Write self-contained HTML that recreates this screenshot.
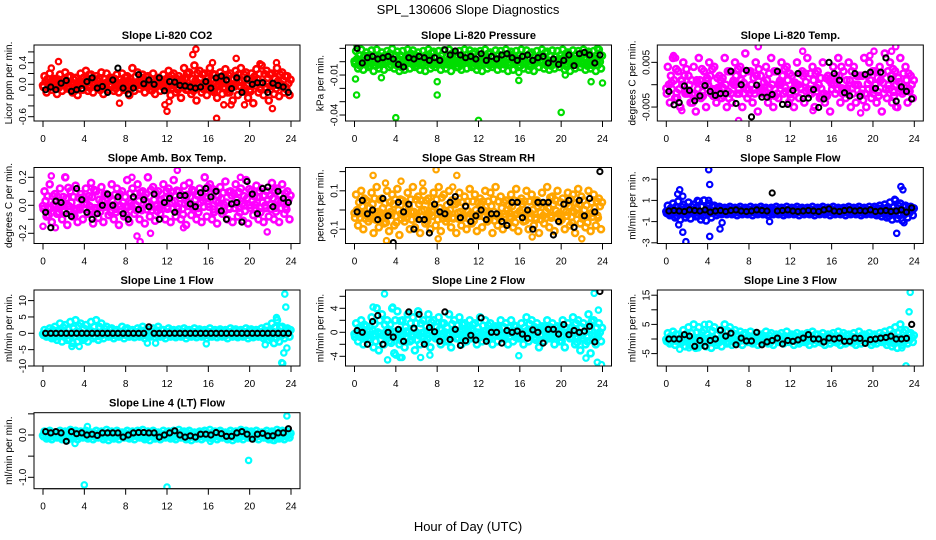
<!DOCTYPE html>
<html><head><meta charset="utf-8"><style>
html,body{margin:0;padding:0;background:#fff}
svg{display:block;font-family:"Liberation Sans",Arial,sans-serif}
</style></head><body>
<svg id="chart" width="936" height="540" viewBox="0 0 936 540">
<text x="468" y="14" text-anchor="middle" font-size="13">SPL_130606  Slope Diagnostics</text>
<text x="468" y="531" text-anchor="middle" font-size="13">Hour of Day (UTC)</text>
<g id="panels"></g>
</svg>
<script>
// ---- data ----
const xTicks=[0,4,8,12,16,20,24];

const co2Hi=[.15,.2,.1,.18,.22,.15,.12,.2,.25,.18,.15,.22,.2,.12,.18,.2,.15,.3,.22,.18,.15,.2,.12,.18,.25,.2,.15,.3,.22,.35,.25,.2,.3,.18,.22,.28,.2,.25,.3,.22,.2,.28,.35,.25,.2,.3,.22,.15];
const co2Mid=[.05,-.02,.08,0,.06,.03,-.04,.05,.1,.02,.07,-.03,.04,.08,0,.05,.06,-.02,.03,.1,.04,-.05,.06,.02,.08,0,.05,.1,-.03,.06,.12,.02,.08,-.04,.1,.05,0,.12,.06,-.02,.08,.1,.03,.12,0,.06,.08,.02];
const co2Lo=[-.15,-.1,-.18,-.12,-.08,-.15,-.2,-.1,-.12,-.15,-.08,-.18,-.1,-.12,-.15,-.1,-.2,-.12,-.08,-.15,-.1,-.18,-.12,-.1,-.2,-.15,-.25,-.1,-.18,-.3,-.15,-.2,-.12,-.25,-.18,-.15,-.3,-.2,-.12,-.25,-.35,-.15,-.2,-.3,-.18,-.22,-.15,-.2];
const co2OutHr=[0.8,1.5,7.4,12,12.2,14.5,14.8,16.4,16.8,18.7,18.2,19.5,21,22.2,22.6,11.8,17.5];
const co2OutVal=[.3,.42,-.35,-.5,-.32,.55,.65,.4,-.63,.48,-.38,-.38,.38,-.45,.4,-.38,-.38];
const co2Blk=[-.1,-.05,-.1,.02,.07,-.13,-.1,-.08,.05,.12,-.07,-.04,-.15,.08,.3,-.07,-.18,-.07,.18,.01,.08,0,.12,-.12,.05,.04,-.02,-.03,-.05,-.07,-.05,.05,-.07,.12,.15,.08,-.08,.12,-.15,.1,0,.03,.03,-.15,.02,-.02,-.05,-.15];

const presHi=[.008,.009,.007,.0085,.009,.007,.008,.0095,.0075,.008,.009,.0085,.007,.008,.009,.0075,.008,.0085,.009,.007,.008,.009,.0085,.0075,.008,.009,.007,.0085,.008,.009,.0075,.008,.009,.0085,.007,.008,.009,.0075,.0085,.008,.009,.007,.0085,.008,.009,.0075,.008,.009];
const presMid=[.002,0,.003,.001,-.001,.002,.004,0,.002,-.002,.003,.001,0,.002,.004,-.001,.002,0,.003,.001,-.002,.002,.004,0,.001,.003,-.001,.002,0,.003,.001,.002,-.001,.003,0,.002,.004,.001,-.001,.002,.003,0,.002,.001,.003,-.001,.002,0];
const presLo=[-.005,-.006,-.004,-.007,-.005,-.006,-.004,-.005,-.007,-.006,-.005,-.004,-.006,-.007,-.005,-.004,-.006,-.005,-.007,-.004,-.006,-.005,-.004,-.006,-.007,-.005,-.004,-.006,-.005,-.007,-.006,-.004,-.005,-.006,-.007,-.004,-.005,-.006,-.005,-.004,-.006,-.007,-.005,-.004,-.006,-.005,-.007,-.005];
const presOutHr=[0.1,0.25,0.2,2.6,4,8,8,12,15.9,15.9,20,20.4,22.9,24,23.5];
const presOutVal=[-.013,.012,-.025,-.012,-.042,-.015,-.025,-.044,-.008,-.014,-.038,-.01,-.015,-.016,.01];
const presBlk=[.01,-.001,.003,.004,.002,.003,.004,.002,-.002,-.004,.003,.002,.004,.003,.001,.003,.001,.009,.005,.008,.005,.003,.004,.002,.006,.001,.004,.002,.005,.006,.003,.001,.004,.005,.001,.003,.004,-.001,.002,-.002,.001,.005,-.003,.006,.007,.005,-.001,.005];

const tempHi=[.004,.006,.003,.005,.002,.004,.006,.003,.005,.004,.002,.006,.003,.005,.004,.007,.003,.005,.002,.004,.006,.003,.005,.004,.002,.005,.003,.006,.004,.003,.005,.002,.004,.006,.003,.005,.004,.002,.006,.005,.003,.004,.007,.005,.003,.006,.004,.002];
const tempMid=[0,.001,-.001,.002,0,-.002,.001,0,.002,-.001,.001,0,-.002,.002,.001,-.001,0,.002,-.001,.001,0,-.002,.002,.001,-.001,0,.002,-.001,.001,0,-.002,.001,0,.002,-.001,.001,0,.002,-.002,.001,0,.001,-.001,.002,0,-.001,.001,0];
const tempLo=[-.004,-.003,-.005,-.002,-.004,-.006,-.003,-.005,-.002,-.004,-.003,-.005,-.004,-.002,-.005,-.003,-.004,-.006,-.002,-.004,-.005,-.003,-.002,-.004,-.005,-.003,-.004,-.002,-.005,-.003,-.004,-.006,-.002,-.004,-.003,-.005,-.004,-.002,-.005,-.003,-.004,-.006,-.003,-.004,-.005,-.002,-.004,-.003];
const tempOutHr=[0.7,0.9,7,8.9,13.2,19.7,20.1,21.8,22.2,22.2,18.8,14.2,1.5];
const tempOutVal=[.0065,.006,-.008,.0085,.0075,.0065,.0075,.0075,.0085,-.005,-.0063,-.0058,-.0058];
const tempBlk=[-.0015,-.0045,-.004,-.0003,-.0013,-.0036,-.0025,-.0002,-.0015,-.0024,-.002,-.002,.003,-.0042,0,.0032,-.0072,-.0001,-.0028,-.0028,-.0022,.003,-.0044,-.0044,-.0013,.0025,-.0031,-.003,-.0011,-.0051,-.0032,.005,.0025,.001,-.0018,-.0025,.0025,-.0026,.0023,.0028,-.0008,.0028,.006,.0013,-.0037,-.0005,-.0015,-.0032];

const ambHi=[.1,.15,.08,.12,.2,.1,.14,.08,.12,.16,.1,.13,.08,.15,.12,.1,.18,.12,.15,.1,.2,.13,.1,.15,.12,.18,.1,.14,.16,.1,.12,.2,.15,.1,.13,.17,.1,.15,.12,.18,.1,.14,.12,.1,.16,.12,.15,.1];
const ambMid=[.03,-.02,.04,0,.05,.02,-.03,.04,.01,.06,-.02,.03,.05,0,.04,.02,-.01,.05,.03,.06,.02,.04,-.02,.05,.07,.03,.05,.01,.06,.04,.02,.06,.08,.03,.05,.02,.07,.04,.01,.05,.03,.06,.02,.04,.05,.03,.02,.04];
const ambLo=[-.08,-.12,-.06,-.1,-.14,-.08,-.12,-.1,-.06,-.13,-.09,-.12,-.07,-.1,-.14,-.08,-.12,-.06,-.1,-.13,-.08,-.11,-.06,-.1,-.12,-.08,-.1,-.14,-.07,-.1,-.12,-.08,-.1,-.13,-.06,-.1,-.12,-.08,-.11,-.13,-.07,-.1,-.12,-.08,-.1,-.12,-.06,-.1];
const ambOutHr=[0.8,0,2.2,8.6,9.1,9.4,10.4,13,19.1,21.7,13.6,1.2];
const ambOutVal=[.21,-.15,.2,.2,-.22,-.26,-.2,.25,.2,-.19,-.16,-.16];
const ambBlk=[-.05,-.16,.03,.02,-.06,-.08,.12,.04,-.05,-.1,-.06,0,.08,0,.06,-.06,-.1,.06,-.03,.04,-.01,.08,-.1,.02,.05,-.05,.07,.07,.01,-.01,.09,.12,.06,.1,-.04,-.1,.01,.02,-.12,.17,.08,-.06,.12,.13,-.01,.1,.05,.02];

const rhHi=[.08,.1,.05,.09,.12,.06,.1,.08,.11,.05,.09,.12,.07,.1,.06,.09,.12,.08,.1,.05,.09,.07,.11,.08,.06,.1,.09,.12,.07,.05,.08,.11,.06,.1,.08,.05,.09,.12,.07,.1,.06,.09,.08,.11,.05,.1,.08,.06];
const rhMid=[0,.02,-.03,.03,-.01,.01,-.02,.03,0,-.03,.02,-.01,.03,0,-.02,.02,.01,-.03,0,.03,-.01,.02,-.02,0,.03,-.01,.02,-.03,.01,0,.02,-.02,.03,-.01,0,.02,-.03,.01,.03,-.02,0,.02,-.01,.03,0,-.02,.01,.02];
const rhLo=[-.08,-.1,-.06,-.12,-.09,-.07,-.11,-.08,-.13,-.06,-.1,-.09,-.12,-.07,-.1,-.08,-.11,-.06,-.09,-.12,-.08,-.1,-.07,-.11,-.09,-.06,-.12,-.08,-.1,-.07,-.09,-.11,-.06,-.1,-.08,-.12,-.07,-.09,-.11,-.06,-.1,-.08,-.12,-.07,-.09,-.11,-.08,-.1];
const rhOutHr=[1.8,3,4.5,7.9,9.9,9.5,3.1,8.1,17.2,22,6.6];
const rhOutVal=[.18,.14,.15,.21,.18,.12,-.16,-.15,-.14,-.15,.14];
const rhBlk=[-.01,.05,-.02,0,-.05,.06,-.03,-.17,.04,-.01,.03,-.1,-.05,-.05,-.12,.03,-.01,-.02,.04,.07,-.04,.02,-.06,-.03,0,-.05,-.02,-.02,-.06,-.08,.04,.04,-.04,0,-.1,.04,.04,.04,-.13,-.06,.03,.05,-.09,.05,-.03,.06,-.01,.2];

const sfHi=[.5,.7,.9,.6,.8,.6,.9,1,.7,.5,.4,.3,.4,.3,.4,.3,.4,.3,.4,.3,.3,.4,.3,.4,.3,.4,.3,.3,.4,.3,.4,.3,.4,.3,.3,.4,.3,.4,.3,.4,.4,.5,.6,.8,1,.7,.5,.4];
const sfMid=[0,.1,-.1,.1,0,.1,-.1,0,.1,0,-.1,.1,0,.05,0,-.05,.05,0,.05,-.05,0,.05,0,-.05,.05,0,.05,0,-.05,.05,0,.05,0,-.05,.05,0,.05,0,-.05,0,.1,0,.1,-.1,0,.1,0,.1];
const sfLo=[-.4,-.6,-.8,-.6,-.7,-.5,-.8,-.9,-.6,-.4,-.3,-.3,-.3,-.4,-.3,-.3,-.4,-.3,-.3,-.4,-.3,-.3,-.4,-.3,-.3,-.4,-.3,-.3,-.4,-.3,-.3,-.4,-.3,-.3,-.4,-.3,-.3,-.4,-.3,-.3,-.4,-.5,-.6,-.8,-.7,-.9,-.6,-.4];
const sfOutHr=[1.1,1.3,1.6,1.2,1.6,1.9,4.1,4.2,4.2,4.1,5.2,5.4,10,22.3,22.7,22.9,22.1,23,3];
const sfOutVal=[1.6,2,1.4,-1.3,-2,-2.9,3.9,2.5,-2.4,1,-1.7,-1.1,-1,-2.1,2.3,2,1.1,-1.1,1];
const sfBlk=[0,.05,0,-.05,.1,.05,0,.1,-.1,0,.05,-.05,.05,.1,0,-.05,0,.1,.05,0,1.7,0,.05,.1,0,-.05,0,.05,0,-.05,.1,.2,0,-.05,.05,.1,0,.05,0,.1,-.05,0,.05,-.05,0,.1,-.1,.3];

const l1Hi=[1,1.5,2,3,2.5,3.5,4,3,2.5,3.5,4,3,2,1.5,1,2,1.5,1,1.5,2,1,1.5,2,1,1.5,1,1.2,1.5,1,1.5,1.2,1,1.5,1,1.2,1,1.5,1.2,1,1.5,1.2,1,1.5,2,3,4,2,1.5];
const l1Mid=[0,.5,-.5,.5,0,-.5,.5,0,-.5,.5,0,-.3,.3,0,-.3,.3,0,-.3,.3,0,-.3,.3,0,-.3,.3,0,-.3,.3,0,-.3,.3,0,-.3,.3,0,-.3,.3,0,-.3,.3,0,-.3,.3,0,.5,-.5,0,.5];
const l1Lo=[-1,-1.5,-2,-2.5,-2,-3,-2.5,-2,-2.5,-1.5,-2,-1.5,-1,-1.5,-1,-1.5,-1,-1.2,-1,-1.5,-1,-1.2,-1,-1.5,-1,-1.2,-1,-1.5,-1,-1.2,-1,-1.5,-1,-1.2,-1,-1.5,-1,-1.2,-1,-1.5,-1.2,-1,-1.5,-2,-3,-2.5,-1.5,-1];
const l1OutHr=[2.8,3.5,10.1,10.9,15.8,21.5,22.6,23.1,23.3,23.4,23.5,23.6,23.2];
const l1OutVal=[-4,-4,-3,-3,-3.2,-3.5,4.8,-9,-6,12,8,-4.5,-9.2];
const l1Blk=[0,0,0,0,0,0,0,0,0,0,0,0,0,0,0,0,0,0,0,0,2,0,0,0,0,0,0,0,0,0,0,0,0,0,0,0,0,0,0,0,0,0,0,0,0,0,0,0];

const l2Hi=[1.5,2,1,2.5,4,3,2,4,3.5,2,3,2.5,3.5,2,3,2,2.5,1.5,3,2,2.5,1.5,2,1.5,2.5,2,1.5,1,2,1.5,2,1,1.5,2.5,2,1.5,1,2,1.5,1,2,1.5,2.5,2,1.5,3,2,1.5];
const l2Mid=[0,.5,-.5,.3,0,-.5,.5,0,.3,-.3,0,.5,-.5,0,.3,-.3,.5,0,-.3,.3,0,-.5,.5,0,-.3,.3,0,.5,-.3,0,.3,-.5,0,.3,-.3,0,.5,-.3,0,.3,-.5,0,.5,-.3,0,.5,-.5,0];
const l2Lo=[-1.5,-2,-1,-2.5,-3,-2,-1.5,-3.5,-2,-2.5,-1.5,-3,-2,-1.5,-2.5,-1,-2,-1.5,-2.5,-1,-2,-1.5,-1,-2,-1.5,-1,-2,-1.5,-1,-2,-1.5,-1,-2,-1.5,-1,-2.5,-1.5,-1,-2,-1.5,-2.5,-1,-2,-3,-2,-3.5,-2,-1.5];
const l2OutHr=[2.9,1.8,3.7,3.2,4.6,4.4,6.4,7.3,15.9,23.2,23.6,23.9,22.4,23.5,4];
const l2OutVal=[6.4,4.2,4.2,-4.6,-4.2,-4.2,-4.2,-3.8,-3.9,6.5,3.7,-5.4,-4.3,-5,-3.8];
const l2Blk=[.3,0,-2,1.8,2.8,-2,0,-.8,.5,-1.5,3.4,.7,3,-2,.8,.1,-1.5,3.4,-1.2,.5,-2.2,-1.4,-.5,-1.3,2.4,-1.5,0,0,-1.8,.3,0,.2,-.3,-1,.4,0,-1.8,.5,.5,-.3,1.3,-.4,.3,0,.2,1,-1.6,6.8];

const l3Hi=[2,2.5,1.5,3,4,5,4,3,5,4,3,5,4,3,2.5,2,2.5,2,1.5,2.5,2,1.5,2,2.5,1.5,2,1.5,2,2.5,1.5,2,1.5,2,2.5,2,1.5,2,2.5,1.5,2,1.5,2,2.5,3,4,5,3,2];
const l3Mid=[0,.5,-.5,.5,0,-.5,.5,0,.5,-.5,0,.5,0,-.5,.5,0,-.5,0,.5,0,-.5,.5,0,-.5,.5,0,-.5,0,.5,0,-.5,.5,0,-.5,.5,0,-.5,0,.5,0,-.5,.5,0,.5,0,-.5,0,.5];
const l3Lo=[-1.5,-2,-1,-2.5,-2,-3,-2,-2.5,-3,-2,-2.5,-1.5,-2,-1.5,-2,-1,-1.5,-2,-1,-1.5,-2,-1,-1.5,-1,-2,-1.5,-1,-2,-1.5,-1,-2,-1.5,-1,-2,-1.5,-1,-2,-1.5,-1,-2,-1.5,-1,-2,-2.5,-3,-2,-1.5,-1];
const l3OutHr=[1.3,2.2,3.7,3.1,23.2,23.5,23.6,22.8];
const l3OutVal=[-3.5,-3,5,-3,-9.2,9.3,16,-3];
const l3Blk=[0,0,0,1.5,1,-2.5,-.5,-2.5,-.5,0,3,1,2,-2,.3,-.7,-.7,2.3,-2,-1,-.5,.3,-1.7,-.5,-.8,-.3,.3,1.5,0,0,-1,.3,0,.3,-.8,-.8,.3,.2,-1.5,-.2,0,.3,.5,1,0,0,.2,5];

const l4Hi=[.08,.1,.06,.1,.08,.12,.1,.08,.1,.06,.1,.08,.12,.08,.1,.06,.1,.08,.1,.12,.08,.1,.06,.1,.08,.1,.12,.08,.1,.06,.08,.1,.12,.08,.1,.06,.1,.08,.12,.1,.08,.1,.06,.1,.08,.12,.1,.08];
const l4Mid=[.02,-.02,0,.02,-.02,0,.02,-.02,0,.02,-.02,0,.02,-.02,0,.02,-.02,0,.02,-.02,0,.02,-.02,0,.02,-.02,0,.02,-.02,0,.02,-.02,0,.02,-.02,0,.02,-.02,0,.02,-.02,0,.02,-.02,0,.02,-.02,0];
const l4Lo=[-.08,-.1,-.06,-.1,-.12,-.08,-.1,-.06,-.08,-.1,-.06,-.1,-.12,-.08,-.1,-.06,-.08,-.1,-.06,-.1,-.12,-.08,-.1,-.06,-.08,-.1,-.06,-.1,-.12,-.08,-.1,-.06,-.08,-.1,-.06,-.1,-.12,-.08,-.1,-.06,-.08,-.1,-.06,-.1,-.12,-.08,-.1,-.06];
const l4OutHr=[3.1,4,4.3,12,19.9,23.6,22.2,16.2];
const l4OutVal=[-.2,-1.18,.2,-1.23,-.6,.45,-.12,-.15];
const l4Blk=[.08,.05,.08,.05,-.15,.08,.03,.05,0,.02,-.01,.05,.05,.05,.05,-.05,0,.05,.06,.06,.05,.05,-.05,0,.05,.1,0,-.05,-.02,-.05,.02,.02,0,.06,.03,-.03,-.03,.05,.08,.02,-.1,.02,.04,-.02,-.02,.05,.05,.15];

// ---- layout (geometry only) ----
const colLeft=[34,345.5,657.3], rowTop=[45,167.5,290,412.7], boxW=266, boxH=76;
const panels=[
 {name:'co2',title:'Slope Li-820 CO2',ylab:'Licor ppm per min.',c:0,r:0,color:'#ff0000',zp:84.3,k:54,ticks:[.6,.4,.2,0,-.2,-.4,-.6],labels:['0.4','0.0','-0.6'],lv:[.4,0,-.6],d:[co2Hi,co2Mid,co2Lo,co2OutHr,co2OutVal,co2Blk]},
 {name:'pressure',title:'Slope Li-820 Pressure',ylab:'kPa per min.',c:1,r:0,color:'#00dd00',zp:61.7,k:1333,ticks:[.01,0,-.01,-.02,-.03,-.04],labels:['-0.01','-0.04'],lv:[-.01,-.04],d:[presHi,presMid,presLo,presOutHr,presOutVal,presBlk]},
 {name:'li820-temp',title:'Slope Li-820 Temp.',ylab:'degrees C per min.',c:2,r:0,color:'#ff00ff',zp:84.7,k:4470,ticks:[.005,0,-.005],labels:['0.005','-0.005'],lv:[.005,-.005],d:[tempHi,tempMid,tempLo,tempOutHr,tempOutVal,tempBlk]},
 {name:'amb-box-temp',title:'Slope Amb. Box Temp.',ylab:'degrees C per min.',c:0,r:1,color:'#ff00ff',zp:205.3,k:140,ticks:[.2,.1,0,-.1,-.2],labels:['0.2','0.0','-0.2'],lv:[.2,0,-.2],d:[ambHi,ambMid,ambLo,ambOutHr,ambOutVal,ambBlk]},
 {name:'gas-stream-rh',title:'Slope Gas Stream RH',ylab:'percent per min.',c:1,r:1,color:'#ffa500',zp:210,k:192,ticks:[.2,.1,0,-.1],labels:['0.1','-0.1'],lv:[.1,-.1],d:[rhHi,rhMid,rhLo,rhOutHr,rhOutVal,rhBlk]},
 {name:'sample-flow',title:'Slope Sample Flow',ylab:'ml/min per min.',c:2,r:1,color:'#0000ff',zp:211,k:10.6,ticks:[3,1,-1,-3],labels:['3','1','-1','-3'],lv:[3,1,-1,-3],d:[sfHi,sfMid,sfLo,sfOutHr,sfOutVal,sfBlk]},
 {name:'line1-flow',title:'Slope Line 1 Flow',ylab:'ml/min per min.',c:0,r:2,color:'#00ffff',zp:333.3,k:3.27,ticks:[10,5,0,-5,-10],labels:['10','5','0','-5','-10'],lv:[10,5,0,-5,-10],d:[l1Hi,l1Mid,l1Lo,l1OutHr,l1OutVal,l1Blk]},
 {name:'line2-flow',title:'Slope Line 2 Flow',ylab:'ml/min per min.',c:1,r:2,color:'#00ffff',zp:332.3,k:6,ticks:[6,4,2,0,-2,-4],labels:['4','0','-4'],lv:[4,0,-4],d:[l2Hi,l2Mid,l2Lo,l2OutHr,l2OutVal,l2Blk]},
 {name:'line3-flow',title:'Slope Line 3 Flow',ylab:'ml/min per min.',c:2,r:2,color:'#00ffff',zp:339,k:2.92,ticks:[15,10,5,0,-5],labels:['15','5','-5'],lv:[15,5,-5],d:[l3Hi,l3Mid,l3Lo,l3OutHr,l3OutVal,l3Blk]},
 {name:'line4-flow',title:'Slope Line 4 (LT) Flow',ylab:'ml/min per min.',c:0,r:3,color:'#00ffff',zp:435,k:42.3,ticks:[.5,0,-.5,-1],labels:['0.0','-1.0'],lv:[0,-1],d:[l4Hi,l4Mid,l4Lo,l4OutHr,l4OutVal,l4Blk]}
];
const NS='http://www.w3.org/2000/svg';
function mk(tag,attrs,parent){const e=document.createElementNS(NS,tag);for(const a in attrs)e.setAttribute(a,attrs[a]);parent.appendChild(e);return e;}
const root=document.getElementById('panels');
panels.forEach(p=>{
  const L=colLeft[p.c],T=rowTop[p.r],B=T+boxH;
  const xs=h=>L+9+h*(248/24);
  const ys=v=>p.zp-v*p.k;
  const g=mk('g',{},root);
  
  
  const t=mk('text',{x:L+boxW/2,y:T-6,'text-anchor':'middle','font-size':11,'font-weight':'bold'},g);
  t.textContent=p.title;
  
  
  const yl=mk('text',{x:L-22,y:T+boxH/2,'text-anchor':'middle','font-size':10,transform:`rotate(-90 ${L-22} ${T+boxH/2})`},g);
  yl.textContent=p.ylab;
  
  
  const xa=mk('g',{},g);
  
  
  mk('line',{x1:xs(0),x2:xs(24),y1:B,y2:B,stroke:'#000'},xa);
  xTicks.forEach(h=>{
    mk('line',{x1:xs(h),x2:xs(h),y1:B,y2:B+6,stroke:'#000'},xa);
    const tl=mk('text',{x:xs(h),y:B+21,'text-anchor':'middle','font-size':10},xa);
    tl.textContent=h;
    
    
  });
  const ya=mk('g',{},g);
  
  
  const tv=p.ticks;
  mk('line',{x1:L,x2:L,y1:ys(tv[0]),y2:ys(tv[tv.length-1]),stroke:'#000'},ya);
  tv.forEach(v=>mk('line',{x1:L-6,x2:L,y1:ys(v),y2:ys(v),stroke:'#000'},ya));
  p.labels.forEach((s,i)=>{
    const y=ys(p.lv[i]);
    const tl=mk('text',{x:L-8,y:y,'text-anchor':'middle','font-size':10,transform:`rotate(-90 ${L-8} ${y})`},ya);
    tl.textContent=s;
    
    
  });
  const clipId='clip-'+p.name;
  const cp=mk('clipPath',{id:clipId},g);
  mk('rect',{x:L,y:T,width:boxW,height:boxH},cp);
  const pts=mk('g',{'clip-path':`url(#${clipId})`},g);
  
  
  const [hi,mid,lo,oh,ov,blk]=p.d;
  const dot=(h,v,col,sw,r)=>{
    const c=mk('circle',{cx:xs(h).toFixed(1),cy:ys(v).toFixed(1),r:r,fill:'none',stroke:col,'stroke-width':sw},pts);
    
    
  };
  const spread=(arr,off)=>arr.forEach((v,i)=>dot((i+off)*24/arr.length,v,p.color,2.6,3));
  spread(hi,0.3);spread(lo,0.7);spread(mid,0.5);
  spread(hi.map((v,i)=>(v+mid[i])/2),0.9);spread(lo.map((v,i)=>(v+mid[i])/2),0.1);
  spread(hi.map((v,i)=>(v+lo[i])/2+(mid[i]-v)*0.2),0.0);
  oh.forEach((h,i)=>dot(h,ov[i],p.color,2.2,2.7));
  blk.forEach((v,i)=>dot((i+0.5)*24/blk.length,v,'#000',2,2.6));
  const box=mk('rect',{x:L,y:T,width:boxW,height:boxH,fill:'none',stroke:'#000'},g);
  
  
});
</script>
</body></html>
